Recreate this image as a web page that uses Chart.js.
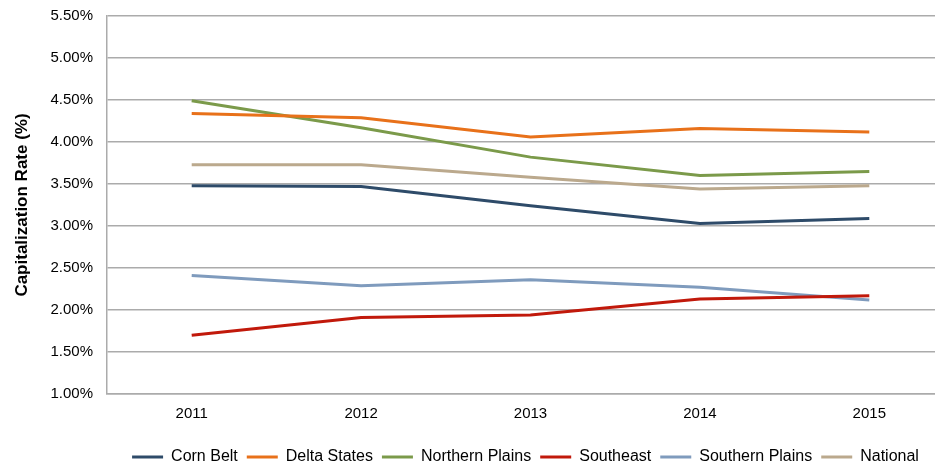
<!DOCTYPE html>
<html>
<head>
<meta charset="utf-8">
<script src="https://cdn.jsdelivr.net/npm/chart.js@4/dist/chart.umd.min.js"></script>
<style>
  html, body { margin: 0; padding: 0; background: #fff; overflow: hidden; }
  #wrap { width: 935px; height: 467px; overflow: hidden; position: relative; }
  #cap { display: block; }
</style>
</head>
<body>
<div id="wrap"><canvas id="cap" width="960" height="467"></canvas></div>
<script>
// values (%)
const years = ['2011', '2012', '2013', '2014', '2015']
const cornBelt       = [3.48, 3.47, 3.24, 3.03, 3.09]
const deltaStates    = [4.34, 4.29, 4.06, 4.16, 4.12]
const northernPlains = [4.49, 4.17, 3.82, 3.60, 3.65]
const southeast      = [1.70, 1.91, 1.94, 2.13, 2.17]
const southernPlains = [2.41, 2.29, 2.36, 2.27, 2.12]
const national       = [3.73, 3.73, 3.58, 3.44, 3.48]

const seriesNames  = ['Corn Belt', 'Delta States', 'Northern Plains', 'Southeast', 'Southern Plains', 'National']
const seriesValues = [cornBelt, deltaStates, northernPlains, southeast, southernPlains, national]
const seriesColors = ['#2e4b69', '#e8711a', '#7b9a4a', '#c1190b', '#7f9bbd', '#bba98d']

const gridGray = '#ababab'
const fontFamily = 'Arial, "Liberation Sans", sans-serif'

// the legend in the reference sits right of the plot's centre and lower down
const legendShift = {
  id: 'legendShift',
  afterLayout(chart) {
    chart.legend.left += 45
    chart.legend.right += 45
    chart.legend.top += 8
    chart.legend.bottom += 8
  }
}

let datasets = seriesNames.map((name, i) => ({
  label: name,
  data: seriesValues[i],
  borderColor: seriesColors[i],
  backgroundColor: seriesColors[i],
  borderWidth: 3,
  pointRadius: 0,
  tension: 0
}))

new Chart(document.getElementById('cap').getContext('2d'), {
  type: 'line',
  data: { labels: years, datasets: datasets },
  plugins: [legendShift],
  options: {
    responsive: false,
    animation: false,
    layout: { padding: { left: 7, right: 6, top: 16, bottom: 0 } },
    plugins: {
      tooltip: { enabled: false },
      legend: {
        position: 'bottom',
        labels: {
          usePointStyle: true,
          pointStyle: 'line',
          pointStyleWidth: 31,
          padding: 9,
          color: '#000',
          font: { family: fontFamily, size: 16 }
        }
      }
    },
    scales: {
      x: {
        offset: true,
        afterFit(scale) { scale.height -= 2 },
        grid: { display: false, drawTicks: false, offset: true },
        border: { display: true, color: gridGray, width: 1.5 },
        ticks: { color: '#000', padding: 11, font: { family: fontFamily, size: 15 } }
      },
      y: {
        min: 1,
        max: 5.5,
        afterFit(scale) {
          scale.width = 100
          scale.paddingTop = 0
          scale.paddingBottom = 0
        },
        grid: { color: gridGray, lineWidth: 1.5, drawTicks: false },
        border: { display: true, color: gridGray, width: 1.5 },
        ticks: {
          stepSize: 0.5,
          padding: 14,
          color: '#000',
          font: { family: fontFamily, size: 15 },
          callback: v => v.toFixed(2) + '%'
        },
        title: {
          display: true,
          text: 'Capitalization Rate (%)',
          color: '#000',
          padding: { top: 5, bottom: 0 },
          font: { family: fontFamily, size: 17, weight: 'bold' }
        }
      }
    }
  }
})
</script>
</body>
</html>
